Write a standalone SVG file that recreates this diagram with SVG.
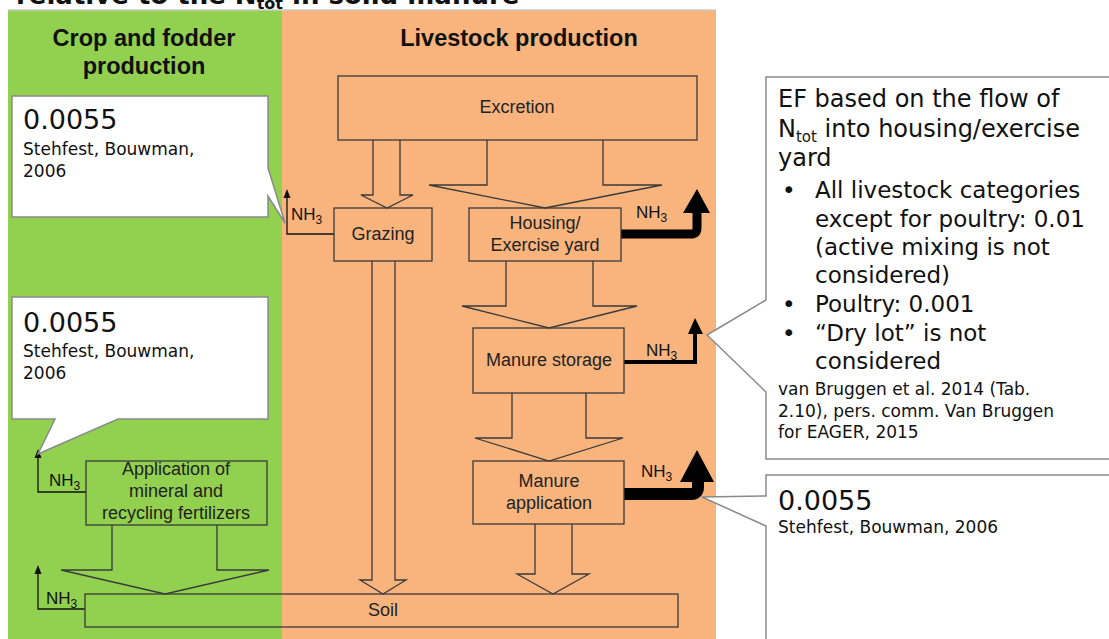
<svg xmlns="http://www.w3.org/2000/svg" width="1109" height="639" viewBox="0 0 1109 639">
<defs>
<style>
.box{fill:none;stroke:#3a3a3a;stroke-width:1.3}
.blk{fill:none;stroke:#3a3a3a;stroke-width:1.3;stroke-linejoin:miter}
.lbl{font-family:"Liberation Sans",Arial,sans-serif;font-size:18px;fill:#222;text-anchor:middle}
.nh{font-family:"Liberation Sans",Arial,sans-serif;font-size:17px;fill:#111}
.sub{font-size:12px}
.hdr{font-family:"Liberation Sans",Arial,sans-serif;font-size:23.5px;font-weight:bold;fill:#111;text-anchor:middle}
.call{fill:#fff;stroke:#8a8a8a;stroke-width:1.5}
.big{font-family:"DejaVu Sans",Verdana,sans-serif;font-size:27px;fill:#111}
.ref{font-family:"DejaVu Sans",Verdana,sans-serif;font-size:17px;fill:#111}
.ef{font-family:"DejaVu Sans",Verdana,sans-serif;font-size:24px;fill:#111}
.efb{font-family:"DejaVu Sans",Verdana,sans-serif;font-size:23px;fill:#111}
.thin{fill:none;stroke:#111;stroke-width:1.3}
</style>
</defs>
<rect width="1109" height="639" fill="#fff"/>
<text x="16" y="4" font-family="DejaVu Sans,Verdana,sans-serif" font-size="26" font-weight="bold" fill="#111">relative to the N<tspan font-size="16" dy="5">tot</tspan><tspan dy="-5"> in solid manure</tspan></text>
<g id="panels">
<rect x="8" y="10" width="274" height="640" fill="#92d050"/>
<rect x="282" y="10" width="434" height="640" fill="#f8b47c"/>
<line x1="8" y1="10" x2="716" y2="10" stroke="#c8c8c8" stroke-width="1.5"/>
<text class="hdr" x="144" y="46">Crop and fodder</text>
<text class="hdr" x="144" y="74">production</text>
<text class="hdr" x="519" y="46">Livestock production</text>
</g>
<g id="connectors">
<path class="blk" d="M373,140 V195 H361 L387,208 L413,195 H400 V140"/>
<path class="blk" d="M487,140 V185 H429 L545,208 L662,185 H603 V140"/>
<path class="blk" d="M372,261 V580 H360 L383,594 L406,580 H395 V261"/>
<path class="blk" d="M506,261 V306 H462 L549,328 L637,306 H593 V261"/>
<path class="blk" d="M512,393 V438 H475 L549,461 L623,438 H586 V393"/>
<path class="blk" d="M535,524 V574 H517 L553,594 L589,574 H572 V524"/>
<path class="blk" d="M112,525 V570 H61 L165,594 L269,570 H217 V525"/>
<path class="thin" d="M334,234 H287 V197"/>
<polygon points="283.5,198 287,189 290.5,198" fill="#111"/>
<path class="thin" d="M86,492 H38 V457"/>
<polygon points="34.5,458 38,449 41.5,458" fill="#111"/>
<path class="thin" d="M85,609 H38 V573"/>
<polygon points="34.5,574 38,565 41.5,574" fill="#111"/>
<path d="M621,234 H691 Q697,234 697,228 V211" fill="none" stroke="#000" stroke-width="9"/>
<polygon points="683,213 697,189 710,213" fill="#000"/>
<path d="M624,362 H695 V332" fill="none" stroke="#000" stroke-width="4"/>
<polygon points="688,334 695,318 703,334" fill="#000"/>
<path d="M624,494 H691 Q698,494 698,487 V480" fill="none" stroke="#000" stroke-width="12"/>
<polygon points="680,482 697,450 714,482" fill="#000"/>
<text class="nh" x="291" y="220">NH<tspan class="sub" dy="4">3</tspan></text>
<text class="nh" x="636" y="218">NH<tspan class="sub" dy="4">3</tspan></text>
<text class="nh" x="646" y="356">NH<tspan class="sub" dy="4">3</tspan></text>
<text class="nh" x="641" y="477">NH<tspan class="sub" dy="4">3</tspan></text>
<text class="nh" x="49" y="486">NH<tspan class="sub" dy="4">3</tspan></text>
<text class="nh" x="46" y="604">NH<tspan class="sub" dy="4">3</tspan></text>
</g>
<g id="excretion">
<rect class="box" x="338" y="76" width="359" height="64"/>
<text class="lbl" x="517" y="113">Excretion</text>
</g>
<g id="grazing">
<rect class="box" x="334" y="208" width="98" height="53"/>
<text class="lbl" x="383" y="240">Grazing</text>
</g>
<g id="housing">
<rect class="box" x="469" y="208" width="152" height="53"/>
<text class="lbl" x="545" y="229">Housing/</text>
<text class="lbl" x="545" y="251">Exercise yard</text>
</g>
<g id="storage">
<rect class="box" x="473" y="328" width="151" height="65"/>
<text class="lbl" x="549" y="366">Manure storage</text>
</g>
<g id="application">
<rect class="box" x="473" y="461" width="151" height="63"/>
<text class="lbl" x="549" y="487">Manure</text>
<text class="lbl" x="549" y="509">application</text>
</g>
<g id="fertilizers">
<rect class="box" x="86" y="461" width="181" height="64"/>
<text class="lbl" x="176" y="475">Application of</text>
<text class="lbl" x="176" y="497">mineral and</text>
<text class="lbl" x="176" y="519">recycling fertilizers</text>
</g>
<g id="soil">
<rect class="box" x="85" y="594" width="593" height="33"/>
<text class="lbl" x="383" y="616">Soil</text>
</g>
<g id="callout-grazing">
<path class="call" d="M12,96 H268 V168 L285,223 L268,196 V217 H12 Z"/>
<text class="big" x="23" y="129">0.0055</text>
<text class="ref" x="23" y="155">Stehfest, Bouwman,</text>
<text class="ref" x="23" y="177">2006</text>
</g>
<g id="callout-fertilizer">
<path class="call" d="M12,297 H268 V419 H118 L38,454 L55,419 H12 Z"/>
<text class="big" x="23" y="332">0.0055</text>
<text class="ref" x="23" y="357">Stehfest, Bouwman,</text>
<text class="ref" x="23" y="379">2006</text>
</g>
<g id="callout-housing">
<path class="call" d="M766,77 H1120 V459 H766 V392 L707,335 L766,300 Z"/>
<text class="ef" x="778" y="107">EF based on the flow of</text>
<text class="ef" x="778" y="137">N<tspan font-size="15" dy="5">tot</tspan><tspan dy="-5"> into housing/exercise</tspan></text>
<text class="ef" x="778" y="166">yard</text>
<text class="efb" x="782" y="198">•</text><text class="efb" x="815" y="198">All livestock categories</text>
<text class="efb" x="815" y="227">except for poultry: 0.01</text>
<text class="efb" x="815" y="255">(active mixing is not</text>
<text class="efb" x="815" y="283">considered)</text>
<text class="efb" x="782" y="312">•</text><text class="efb" x="815" y="312">Poultry: 0.001</text>
<text class="efb" x="782" y="341">•</text><text class="efb" x="815" y="341">“Dry lot” is not</text>
<text class="efb" x="815" y="369">considered</text>
<text class="ref" x="778" y="395">van Bruggen et al. 2014 (Tab.</text>
<text class="ref" x="778" y="417">2.10),  pers. comm. Van Bruggen</text>
<text class="ref" x="778" y="438">for EAGER, 2015</text>
</g>
<g id="callout-application">
<path class="call" d="M766,475 H1120 V650 H766 V526 L702,497 L766,496 Z"/>
<text class="big" x="778" y="510">0.0055</text>
<text class="ref" x="778" y="533">Stehfest, Bouwman, 2006</text>
</g>
</svg>
